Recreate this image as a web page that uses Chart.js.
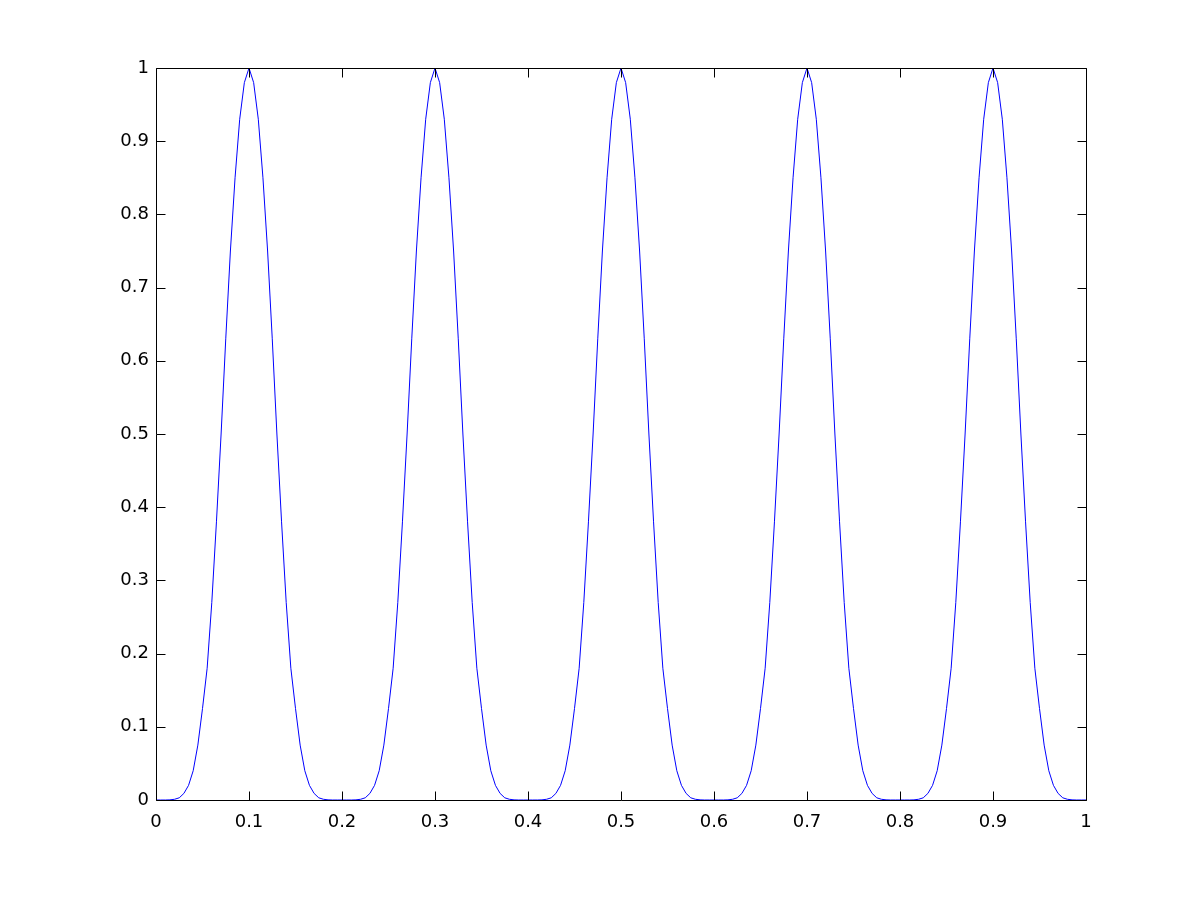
<!DOCTYPE html>
<html>
<head>
<meta charset="utf-8">
<script src="https://cdn.jsdelivr.net/npm/chart.js@4.4.1/dist/chart.umd.min.js"></script>
<style>
html,body{margin:0;padding:0;background:#fff;}
#wrap{width:1200px;height:900px;}
</style>
</head>
<body>
<div id="wrap"><canvas id="c" width="1200" height="900"></canvas></div>
<script>
// Sample grid: x from 0 to 1 with step 0.005 (201 samples)
const xStart = 0;
const xStep = 0.005;
// Curve values (five identical pulses, peaks at 0.1, 0.3, 0.5, 0.7, 0.9)
const yValues = [
  0,0,0,0.0002,0.001,0.003,0.009,0.02,0.04,0.075,0.125,0.18,0.27,0.38,0.50,0.63,0.75,0.85,0.93,0.98,
  1,0.98,0.93,0.85,0.75,0.63,0.50,0.38,0.27,0.18,0.125,0.075,0.04,0.02,0.009,0.003,0.001,0.0002,0,0,
  0,0,0,0.0002,0.001,0.003,0.009,0.02,0.04,0.075,0.125,0.18,0.27,0.38,0.50,0.63,0.75,0.85,0.93,0.98,
  1,0.98,0.93,0.85,0.75,0.63,0.50,0.38,0.27,0.18,0.125,0.075,0.04,0.02,0.009,0.003,0.001,0.0002,0,0,
  0,0,0,0.0002,0.001,0.003,0.009,0.02,0.04,0.075,0.125,0.18,0.27,0.38,0.50,0.63,0.75,0.85,0.93,0.98,
  1,0.98,0.93,0.85,0.75,0.63,0.50,0.38,0.27,0.18,0.125,0.075,0.04,0.02,0.009,0.003,0.001,0.0002,0,0,
  0,0,0,0.0002,0.001,0.003,0.009,0.02,0.04,0.075,0.125,0.18,0.27,0.38,0.50,0.63,0.75,0.85,0.93,0.98,
  1,0.98,0.93,0.85,0.75,0.63,0.50,0.38,0.27,0.18,0.125,0.075,0.04,0.02,0.009,0.003,0.001,0.0002,0,0,
  0,0,0,0.0002,0.001,0.003,0.009,0.02,0.04,0.075,0.125,0.18,0.27,0.38,0.50,0.63,0.75,0.85,0.93,0.98,
  1,0.98,0.93,0.85,0.75,0.63,0.50,0.38,0.27,0.18,0.125,0.075,0.04,0.02,0.009,0.003,0.001,0.0002,0,0,
  0
];
const xTickValues = [0,0.1,0.2,0.3,0.4,0.5,0.6,0.7,0.8,0.9,1];
const xTickLabels = ['0','0.1','0.2','0.3','0.4','0.5','0.6','0.7','0.8','0.9','1'];
const yTickValues = [0,0.1,0.2,0.3,0.4,0.5,0.6,0.7,0.8,0.9,1];
const yTickLabels = ['0','0.1','0.2','0.3','0.4','0.5','0.6','0.7','0.8','0.9','1'];

const points = yValues.map((v, i) => ({x: +(xStart + i * xStep).toFixed(4), y: v}));

const FONT = '"DejaVu Sans", "Liberation Sans", Arial, sans-serif';

const boxPlugin = {
  id: 'matlabBox',
  afterDraw(chart) {
    const {ctx, chartArea: a, scales} = chart;
    const xs = scales.x, ys = scales.y;
    const L = Math.round(a.left) + 0.5, R = Math.round(a.right) + 0.5;
    const T = Math.round(a.top) + 0.5, B = Math.round(a.bottom) + 0.5;
    const tl = 9;
    ctx.save();
    ctx.strokeStyle = '#000';
    ctx.lineWidth = 1;
    ctx.beginPath();
    ctx.rect(L, T, R - L, B - T);
    xTickValues.forEach(v => {
      const px = Math.round(xs.getPixelForValue(v)) + 0.5;
      ctx.moveTo(px, B); ctx.lineTo(px, B - tl);
      ctx.moveTo(px, T); ctx.lineTo(px, T + tl);
    });
    yTickValues.forEach(v => {
      const py = Math.round(ys.getPixelForValue(v)) + 0.5;
      ctx.moveTo(L, py); ctx.lineTo(L + tl, py);
      ctx.moveTo(R, py); ctx.lineTo(R - tl, py);
    });
    ctx.stroke();
    ctx.restore();
  }
};

new Chart(document.getElementById('c'), {
  type: 'line',
  data: {
    datasets: [{
      data: points,
      borderColor: '#0000ff',
      borderWidth: 1,
      pointRadius: 0,
      tension: 0,
      fill: false
    }]
  },
  options: {
    responsive: false,
    animation: false,
    parsing: true,
    layout: {padding: {left: 0, top: 68, right: 114, bottom: 60}},
    plugins: {legend: {display: false}, tooltip: {enabled: false}},
    scales: {
      x: {
        type: 'linear',
        min: 0, max: 1,
        afterFit(s) { s.height = 40; },
        afterBuildTicks(s) { s.ticks = xTickValues.map(v => ({value: v})); },
        grid: {display: false, drawTicks: false},
        border: {display: false},
        ticks: {
          padding: 12,
          color: '#000',
          font: {family: FONT, size: 18},
          maxRotation: 0,
          autoSkip: false,
          callback: (v, i) => xTickLabels[i]
        }
      },
      y: {
        type: 'linear',
        min: 0, max: 1,
        afterFit(s) { s.width = 156; },
        afterBuildTicks(s) { s.ticks = yTickValues.map(v => ({value: v})); },
        grid: {display: false, drawTicks: false},
        border: {display: false},
        ticks: {
          padding: 7,
          color: '#000',
          font: {family: FONT, size: 18},
          autoSkip: false,
          callback: (v, i) => yTickLabels[i]
        }
      }
    }
  },
  plugins: [boxPlugin]
});
</script>
</body>
</html>
